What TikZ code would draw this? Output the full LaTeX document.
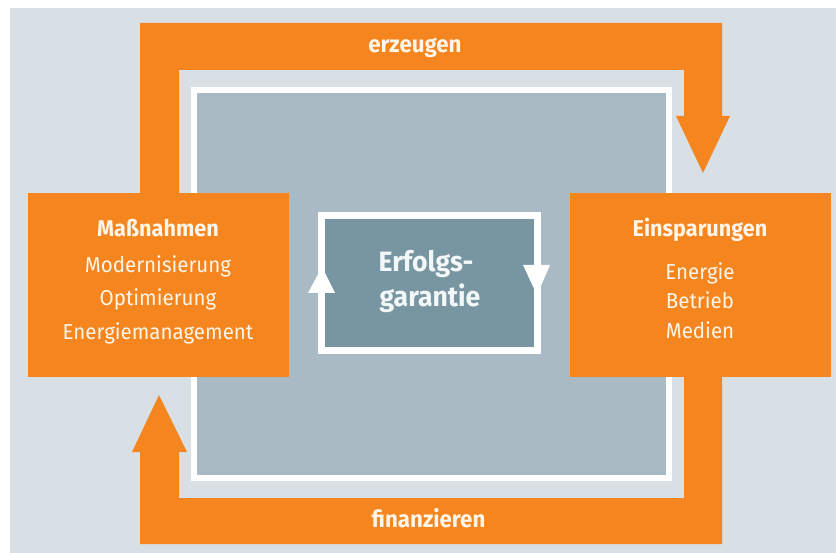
\documentclass[tikz,border=0pt]{standalone}
\usepackage{fontspec}
\setmainfont{Fira Sans}[FakeStretch=0.95]
\definecolor{bgc}{HTML}{D8E0E6}
\definecolor{orng}{HTML}{F5861F}
\definecolor{panelc}{HTML}{A9BAC5}
\definecolor{corec}{HTML}{7896A2}
\definecolor{cream}{HTML}{FFF5E8}
\begin{document}
\begin{tikzpicture}[x=1pt,y=-1pt,
  band/.style={fill=orng},
  obox/.style={fill=orng, minimum width=261pt, minimum height=184pt, inner sep=0pt},
  ttl/.style={font=\bfseries\fontsize{22.8}{26}\selectfont, text=cream, anchor=base, inner sep=0pt},
  itm/.style={font=\fontsize{21.6}{25}\selectfont, text=cream, anchor=base, inner sep=0pt},
  lbl/.style={font=\bfseries\fontsize{23.5}{27}\selectfont, text=cream, anchor=base, inner sep=0pt},
  ctr/.style={font=\bfseries\fontsize{28}{31}\selectfont, text=white!92!corec, anchor=base, inner sep=0pt},
  tri/.style={fill=white}]
\useasboundingbox (0,0) rectangle (836,553);
\fill[white] (0,0) rectangle (836,553);
\fill[bgc] (10,8) rectangle (836,553);
% large panel
\node[fill=panelc, draw=white, line width=6pt, minimum width=475pt, minimum height=388pt, inner sep=0pt] (panel) at (431.5,284) {};
% connectors (bands)
\coordinate (topTip) at (703,173);
\coordinate (botTip) at (159,395);
\fill[band] (140,200) -- (140,23) -- (722,23) -- (722,116) -- (730,116) -- (topTip) -- (676,116) -- (684,116) -- (684,70) -- (179,70) -- (179,200) -- cycle;
\fill[band] (684,370) -- (722,370) -- (722,544) -- (140,544) -- (140,452) -- (132,452) -- (botTip) -- (187,452) -- (179,452) -- (179,498) -- (684,498) -- cycle;
% boxes
\node[obox] (mass) at (158.5,285) {};
\node[obox] (eins) at (700.5,285) {};
% center
\node[fill=corec, draw=white, line width=7pt, minimum width=216pt, minimum height=135.5pt, inner sep=0pt] (core) at (429.5,283.25) {};
\fill[tri] (308,293) -- (322,267) -- (335,293) -- cycle;
\fill[tri] (523,265) -- (550,265) -- (537,295) -- cycle;
% texts
\node[ttl] (mT) at (158,237) {Maßnahmen};
\node[itm] (m1) at (158,273) {Modernisierung};
\node[itm] (m2) at (158,306) {Optimierung};
\node[itm] (m3) at (158,339.5) {Energiemanagement};
\node[ttl] (eT) at (700,237) {Einsparungen};
\node[itm] (e1) at (700,280) {Energie};
\node[itm] (e2) at (700,309) {Betrieb};
\node[itm] (e3) at (700,339) {Medien};
\node[lbl] (lt) at (415,53) {erzeugen};
\node[lbl] (lb) at (428.5,527) {finanzieren};
\node[ctr] (c1) at (426,272) {Erfolgs-};
\node[ctr] (c2) at (430,307) {garantie};
\end{tikzpicture}
\end{document}
